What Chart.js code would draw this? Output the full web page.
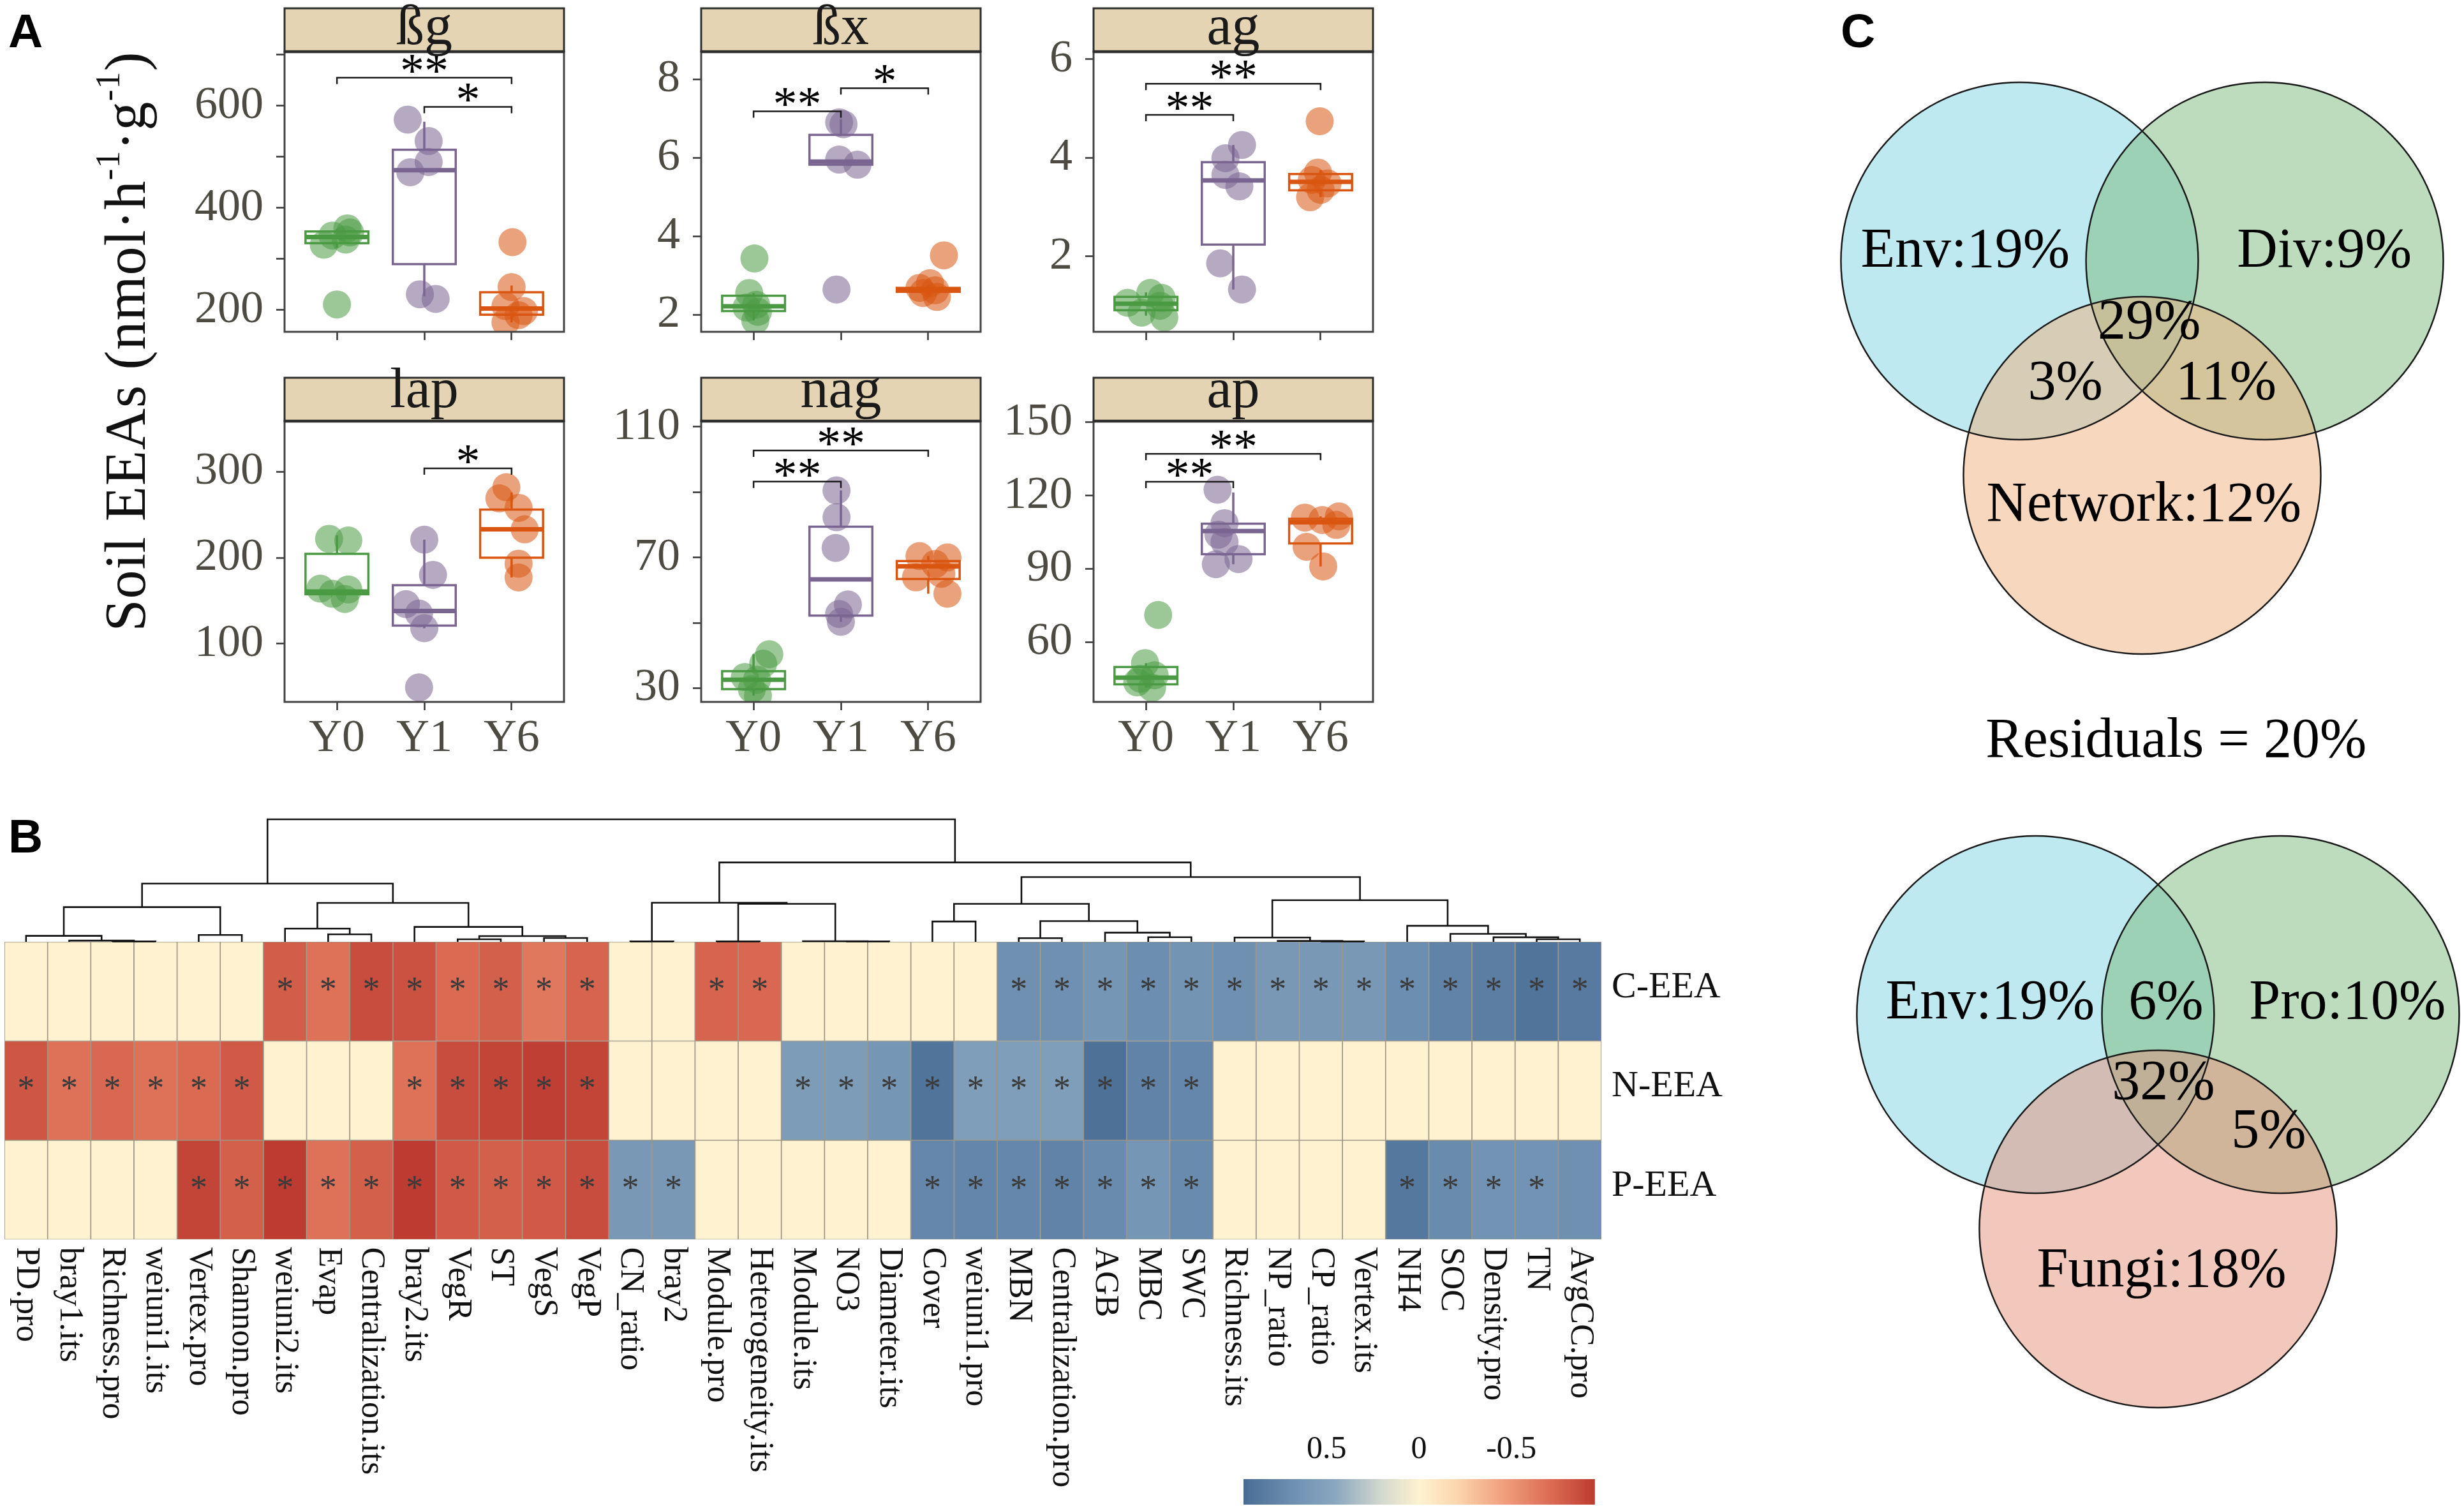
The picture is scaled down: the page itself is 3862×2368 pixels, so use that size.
<!DOCTYPE html>
<html>
<head>
<meta charset="utf-8">
<title>Soil EEAs</title>
<script src="https://cdn.jsdelivr.net/npm/chart.js@4.4.1/dist/chart.umd.min.js"></script>
<style>
  html, body { margin:0; padding:0; background:#ffffff; }
  body { position:relative; width:3862px; height:2368px; overflow:hidden; }
  canvas { position:absolute; }
  .panel-tag { position:absolute; font-family:'Liberation Sans', Arial, sans-serif; font-weight:bold; font-size:75px; line-height:75px; color:#000; }
  #ytitle { position:absolute; left:197px; top:535px; transform:translate(-50%,-50%) rotate(-90deg); white-space:nowrap;
            font-family:'Liberation Serif','Times New Roman',serif; font-size:90px; line-height:1; color:#111; letter-spacing:1px; }
  #ytitle .sup { font-size:0.6em; position:relative; top:-0.75em; }
</style>
</head>
<body>
<div class="panel-tag" style="left:13px; top:11px;">A</div>
<div class="panel-tag" style="left:13px; top:1273px;">B</div>
<div class="panel-tag" style="left:2885px; top:11px;">C</div>
<div id="ytitle">Soil EEAs (nmol·h<span class="sup">-1</span>·g<span class="sup">-1</span>)</div>
<script>
// ======================= DATA =======================
const groupLabels = ['Y0', 'Y1', 'Y6'];

// box stats per group: [lower whisker, Q1, median, Q3, upper whisker]
const bgStats  = [[322, 331, 343, 354, 358], [227, 290, 474, 514, 569], [176, 191, 203, 235, 248]];
const bgPoints = [[211, 328, 338, 346, 352, 360], [573, 531, 490, 470, 231, 222], [333, 245, 208, 198, 190, 176]];
const bgJitter = [[0, -0.15, 0.1, -0.05, 0.15, 0.12], [-0.19, 0.05, 0.05, -0.16, -0.05, 0.13], [0.01, 0, -0.07, 0.14, 0.08, -0.07]];
const bgTicks = [200, 300, 400, 500, 600, 700];
const bgTickLabels = ['200', '', '400', '', '600', ''];
const bgSig = [[1, 3, 655, '**'], [2, 3, 598, '*']];

const bxStats  = [[1.85, 2.09, 2.21, 2.48, 2.55], [5.82, 5.82, 5.90, 6.58, 6.98], [2.50, 2.58, 2.63, 2.68, 2.75]];
const bxPoints = [[3.43, 2.55, 2.25, 2.18, 2.07, 1.85], [6.90, 6.85, 5.95, 5.82, 2.64], [3.51, 2.80, 2.68, 2.62, 2.55, 2.45]];
const bxJitter = [[0.01, -0.05, 0.03, -0.08, 0.05, 0.02], [-0.02, 0.03, -0.02, 0.19, -0.05], [0.18, 0.02, -0.1, 0.08, -0.06, 0.1]];
const bxTicks = [2, 4, 6, 8];
const bxTickLabels = ['2', '4', '6', '8'];
const bxSig = [[1, 2, 7.18, '**'], [2, 3, 7.77, '*']];

const agStats  = [[0.80, 0.91, 1.04, 1.18, 1.27], [1.33, 2.24, 3.54, 3.91, 4.26], [3.20, 3.34, 3.51, 3.67, 3.75]];
const agPoints = [[1.06, 1.26, 1.00, 0.76, 0.86, 1.16], [4.26, 3.99, 3.65, 3.42, 1.86, 1.33], [4.74, 3.70, 3.55, 3.48, 3.35, 3.20]];
const agJitter = [[-0.21, 0.05, 0.16, 0.21, -0.05, 0.18], [0.1, -0.09, -0.09, 0.07, -0.15, 0.1], [-0.01, -0.03, -0.1, 0.08, 0.0, -0.12]];
const agTicks = [2, 4, 6];
const agTickLabels = ['2', '4', '6'];
const agSig = [[1, 2, 4.87, '**'], [1, 3, 5.50, '**']];

const lapStats  = [[157, 157.5, 160.7, 204.5, 226], [118, 121, 138, 168, 221], [177, 200, 233, 256, 276]];
const lapPoints = [[222, 220, 164, 163, 158, 152], [221, 180, 146, 135, 118, 49], [282, 269, 258, 233, 193, 177]];
const lapJitter = [[-0.09, 0.13, -0.19, 0.13, -0.05, 0.09], [0, 0.1, -0.21, -0.06, 0, -0.06], [-0.06, -0.14, 0.08, 0.15, 0.08, 0.08]];
const lapTicks = [100, 200, 300];
const lapTickLabels = ['100', '200', '300'];
const lapSig = [[2, 3, 304, '*']];

const nagStats  = [[27.7, 29.7, 32.6, 35.2, 40.4], [50.3, 52.2, 63.3, 79.4, 90.5], [58.9, 63.4, 67.3, 68.9, 70.4]];
const nagPoints = [[40.4, 37.5, 33.4, 32.6, 29.7, 27.7], [90.5, 82.3, 72.9, 55.6, 52.7, 50.3], [70.4, 70.0, 68.0, 65.0, 63.9, 58.9]];
const nagJitter = [[0.18, 0.11, -0.1, 0.04, -0.02, 0.05], [-0.05, -0.05, -0.06, 0.08, -0.02, 0], [-0.1, 0.22, 0.08, 0.15, -0.14, 0.22]];
const nagTicks = [30, 50, 70, 90, 110];
const nagTickLabels = ['30', '', '70', '', '110'];
const nagSig = [[1, 2, 93.2, '**'], [1, 3, 102.7, '**']];

const apStats  = [[41.3, 42.7, 45.4, 49.8, 51.4], [91.9, 96.0, 105.5, 108.5, 121.3], [91.0, 100.4, 109.1, 110.5, 111.5]];
const apPoints = [[71.1, 51.4, 46.4, 45.0, 43.5, 41.3], [122.4, 108.7, 104.0, 101.0, 94.0, 91.9], [111.5, 111.0, 110.0, 108.0, 99.0, 91.0]];
const apJitter = [[0.14, -0.01, 0.1, -0.06, -0.1, 0.07], [-0.18, -0.1, -0.17, -0.1, 0.06, -0.2], [0.21, -0.18, 0.02, 0.18, -0.16, 0.03]];
const apTicks = [60, 90, 120, 150];
const apTickLabels = ['60', '90', '120', '150'];
const apSig = [[1, 2, 125.7, '**'], [1, 3, 137.1, '**']];

// Heatmap (panel B)
const hmColumns = ['PD.pro','bray1.its','Richness.pro','weiuni1.its','Vertex.pro','Shannon.pro','weiuni2.its','Evap',
  'Centralization.its','bray2.its','VegR','ST','VegS','VegP','CN_ratio','bray2','Module.pro','Heterogeneity.its',
  'Module.its','NO3','Diameter.its','Cover','weiuni1.pro','MBN','Centralization.pro','AGB','MBC','SWC',
  'Richness.its','NP_ratio','CP_ratio','Vertex.its','NH4','SOC','Density.pro','TN','AvgCC.pro'];
const hmRows = ['C-EEA', 'N-EEA', 'P-EEA'];
const hmC = [0,0,0,0,0,0,-0.78,-0.68,-0.86,-0.84,-0.72,-0.77,-0.65,-0.75,0,0,-0.75,-0.73,0,0,0,0,0,
  0.68,0.68,0.62,0.70,0.64,0.68,0.60,0.60,0.60,0.70,0.78,0.82,0.90,0.85];
const hmN = [-0.82,-0.68,-0.73,-0.68,-0.72,-0.80,0,0,0,-0.68,-0.86,-0.90,-0.93,-0.90,0,0,0,0,
  0.57,0.57,0.62,0.90,0.55,0.55,0.55,0.92,0.78,0.75,0,0,0,0,0,0,0,0,0];
const hmP = [0,0,0,0,-0.90,-0.77,-0.95,-0.68,-0.77,-0.95,-0.80,-0.77,-0.80,-0.86,0.60,0.60,0,0,0,0,0,
  0.75,0.76,0.75,0.78,0.72,0.62,0.72,0,0,0,0,0.87,0.72,0.65,0.65,0.68];
const hmSigC = [0,0,0,0,0,0,1,1,1,1,1,1,1,1,0,0,1,1,0,0,0,0,0,1,1,1,1,1,1,1,1,1,1,1,1,1,1];
const hmSigN = [1,1,1,1,1,1,0,0,0,1,1,1,1,1,0,0,0,0,1,1,1,1,1,1,1,1,1,1,0,0,0,0,0,0,0,0,0];
const hmSigP = [0,0,0,0,1,1,1,1,1,1,1,1,1,1,1,1,0,0,0,0,0,1,1,1,1,1,1,1,0,0,0,0,1,1,1,1,0];
// column dendrogram, hclust-style merges: negative = leaf (1-based column), positive = earlier merge
const hmMerges = [
  [-3,-4,0.03],[-2,1,0.10],[-1,2,0.49],[-5,-6,0.56],[3,4,2.83],[-8,-9,0.61],[-7,6,1.08],
  [-11,-12,0.21],[-13,-14,0.31],[8,9,0.47],[-10,10,1.22],[7,11,3.18],[5,12,4.75],
  [-15,-16,0.03],[-17,-18,0.03],[-20,-21,0.03],[-19,16,0.05],[15,17,3.10],[14,18,3.19],
  [-22,-23,1.66],[-24,-25,0.30],[-27,-28,0.38],[-26,22,0.75],[21,23,1.69],[20,24,3.10],
  [-31,-32,0.03],[-30,26,0.07],[-29,27,0.35],[-36,-37,0.21],[-35,29,0.37],[-34,30,0.65],[-33,31,1.31],
  [28,32,3.40],[25,33,5.29],[19,34,6.48],[13,35,10.0]];
const colorbarTicks = [0.5, 0, -0.5];
const colorbarLabels = ['0.5', '0', '-0.5'];

// Venn (panel C)
const vennTopSets = ['Env', 'Div', 'Network'];
const vennTopUnique = [19, 9, 12];
const vennTopShared = [29, 3, 11];      // all three, Env∩Network, Div∩Network
const vennBottomSets = ['Env', 'Pro', 'Fungi'];
const vennBottomUnique = [19, 10, 18];
const vennBottomShared = [6, 32, 5];    // Env∩Pro, all three, Pro∩Fungi
const residualShare = 20;

// ======================= STYLE / LAYOUT =======================
const SERIF = "'Liberation Serif', 'Times New Roman', serif";
Chart.defaults.font.family = SERIF;
const TICK_COLOR = '#4d4a42';
const GROUP_LINE = ['#4b9a43', '#7a6591', '#d95511'];
const GROUP_POINT = ['rgba(75,154,67,0.55)', 'rgba(122,101,145,0.55)', 'rgba(217,85,17,0.55)'];
const STRIP_FILL = '#e4d4b3';
const BOX_W = 0.72;
const PANEL_COLS = [[446, 892], [1099, 1545], [1714, 2160]];
const PANEL_ROWS = [
  { stripTop: 13, plotTop: 81, plotBottom: 520, canvasTop: 0, canvasBottom: 600, labels: false, stripBase: 12 },
  { stripTop: 592, plotTop: 660, plotBottom: 1100, canvasTop: 560, canvasBottom: 1220, labels: true, stripBase: 22 }
];

function addCanvas(left, top, width, height) {
  const cv = document.createElement('canvas');
  cv.width = width; cv.height = height;
  cv.style.left = left + 'px'; cv.style.top = top + 'px';
  cv.style.width = width + 'px'; cv.style.height = height + 'px';
  document.body.appendChild(cv);
  return cv;
}
const baseOpts = () => ({ responsive: false, animation: false, events: [],
  plugins: { legend: { display: false }, tooltip: { enabled: false } } });

// ======================= PANEL A =======================
function boxPlugin(p, row) {
  return {
    id: 'boxpanel',
    beforeDatasetsDraw(chart) {
      const { ctx, scales: { x, y } } = chart;
      ctx.save();
      p.stats.forEach((s, g) => {
        const cx = x.getPixelForValue(g + 1);
        const hw = (x.getPixelForValue(g + 1 + BOX_W / 2) - x.getPixelForValue(g + 1 - BOX_W / 2)) / 2;
        const [lo, q1, md, q3, hi] = s.map(v => y.getPixelForValue(v));
        ctx.strokeStyle = GROUP_LINE[g];
        ctx.lineWidth = 3.5;
        ctx.beginPath();
        ctx.moveTo(cx, q3); ctx.lineTo(cx, hi);
        ctx.moveTo(cx, q1); ctx.lineTo(cx, lo);
        ctx.stroke();
        ctx.fillStyle = '#ffffff';
        ctx.fillRect(cx - hw, q3, 2 * hw, q1 - q3);
        ctx.strokeRect(cx - hw, q3, 2 * hw, q1 - q3);
        ctx.lineWidth = 7;
        ctx.beginPath(); ctx.moveTo(cx - hw, md); ctx.lineTo(cx + hw, md); ctx.stroke();
      });
      ctx.restore();
    },
    afterDatasetsDraw(chart) {
      const { ctx, scales: { x, y } } = chart;
      ctx.save();
      ctx.strokeStyle = '#1a1a1a'; ctx.lineWidth = 2.5; ctx.fillStyle = '#000';
      ctx.font = `76px ${SERIF}`; ctx.textAlign = 'center'; ctx.textBaseline = 'alphabetic';
      p.sig.forEach(([a, b, v, label]) => {
        const xa = x.getPixelForValue(a), xb = x.getPixelForValue(b), yy = y.getPixelForValue(v);
        ctx.beginPath();
        ctx.moveTo(xa, yy + 10); ctx.lineTo(xa, yy); ctx.lineTo(xb, yy); ctx.lineTo(xb, yy + 10);
        ctx.stroke();
        ctx.fillText(label, (xa + xb) / 2, yy + 14);
      });
      ctx.restore();
    },
    afterDraw(chart) {
      const { ctx, chartArea: a } = chart;
      const st = row.stripTop - row.canvasTop;
      ctx.save();
      ctx.strokeStyle = '#444'; ctx.lineWidth = 3;
      ctx.strokeRect(a.left, a.top, a.right - a.left, a.bottom - a.top);
      ctx.fillStyle = STRIP_FILL;
      ctx.fillRect(a.left, st, a.right - a.left, a.top - st);
      ctx.strokeStyle = '#2e2e2e'; ctx.lineWidth = 3;
      ctx.strokeRect(a.left, st, a.right - a.left, a.top - st);
      ctx.lineWidth = 4.5;
      ctx.beginPath(); ctx.moveTo(a.left, a.top); ctx.lineTo(a.right, a.top); ctx.stroke();
      ctx.fillStyle = '#1a1a1a'; ctx.font = `88px ${SERIF}`; ctx.textAlign = 'center'; ctx.textBaseline = 'alphabetic';
      ctx.fillText(p.name, (a.left + a.right) / 2, a.top - row.stripBase);
      ctx.restore();
    }
  };
}

function makeBoxPanel(p) {
  const row = PANEL_ROWS[p.row], col = PANEL_COLS[p.col];
  const AXW = 200, RP = 14;
  const cv = addCanvas(col[0] - AXW, row.canvasTop, col[1] - col[0] + AXW + RP, row.canvasBottom - row.canvasTop);
  const gridOpts = { display: true, drawOnChartArea: false, drawTicks: true, tickLength: 13, tickWidth: 2.5, tickColor: '#333' };
  const opts = baseOpts();
  opts.layout = { padding: { left: 0, right: RP, top: row.plotTop - row.canvasTop, bottom: 0 } };
  opts.scales = {
    x: { type: 'linear', min: 0.4, max: 3.6,
      afterBuildTicks: s => { s.ticks = groupLabels.map((_, i) => ({ value: i + 1 })); },
      afterFit: s => { s.height = row.canvasBottom - row.plotBottom; },
      grid: gridOpts, border: { display: false },
      ticks: { autoSkip: false, maxRotation: 0, minRotation: 0, padding: 2, color: TICK_COLOR,
        font: { family: SERIF, size: 72 }, callback: (v, i) => row.labels ? groupLabels[i] : '' } },
    y: { type: 'linear', min: p.range[0], max: p.range[1],
      afterBuildTicks: s => { s.ticks = p.ticks.map(v => ({ value: v })); },
      afterFit: s => { s.width = AXW; },
      grid: gridOpts, border: { display: false },
      ticks: { autoSkip: false, padding: 20, color: TICK_COLOR, font: { family: SERIF, size: 72 },
        callback: (v, i) => p.tickLabels[i] } }
  };
  new Chart(cv, {
    type: 'scatter',
    data: { datasets: p.points.map((pts, g) => ({
      data: pts.map((v, k) => ({ x: g + 1 + p.jitter[g][k], y: v })),
      backgroundColor: GROUP_POINT[g], borderWidth: 0, pointRadius: 22, pointHoverRadius: 22, clip: 0 })) },
    options: opts,
    plugins: [boxPlugin(p, row)]
  });
}

[
  { name: 'ßg', row: 0, col: 0, stats: bgStats, points: bgPoints, jitter: bgJitter, ticks: bgTicks, tickLabels: bgTickLabels, sig: bgSig, range: [157.5, 706] },
  { name: 'ßx', row: 0, col: 1, stats: bxStats, points: bxPoints, jitter: bxJitter, ticks: bxTicks, tickLabels: bxTickLabels, sig: bxSig, range: [1.561, 8.70] },
  { name: 'ag', row: 0, col: 2, stats: agStats, points: agPoints, jitter: agJitter, ticks: agTicks, tickLabels: agTickLabels, sig: agSig, range: [0.472, 6.15] },
  { name: 'lap', row: 1, col: 0, stats: lapStats, points: lapPoints, jitter: lapJitter, ticks: lapTicks, tickLabels: lapTickLabels, sig: lapSig, range: [32.2, 358.9] },
  { name: 'nag', row: 1, col: 1, stats: nagStats, points: nagPoints, jitter: nagJitter, ticks: nagTicks, tickLabels: nagTickLabels, sig: nagSig, range: [25.8, 111.7] },
  { name: 'ap', row: 1, col: 2, stats: apStats, points: apPoints, jitter: apJitter, ticks: apTicks, tickLabels: apTickLabels, sig: apSig, range: [35.5, 150.5] }
].forEach(makeBoxPanel);

// ======================= PANEL B =======================
const CORR_STOPS = [
  [-0.95, [189, 59, 49]], [-0.70, [220, 110, 85]], [-0.45, [241, 160, 127]], [-0.20, [251, 214, 174]],
  [0, [254, 242, 208]], [0.20, [213, 217, 207]], [0.45, [140, 168, 192]], [0.70, [108, 142, 176]], [0.95, [74, 109, 149]]];
function corrColor(v) {
  v = Math.max(-0.95, Math.min(0.95, v));
  for (let i = 0; i < CORR_STOPS.length - 1; i++) {
    const [v0, c0] = CORR_STOPS[i], [v1, c1] = CORR_STOPS[i + 1];
    if (v >= v0 && v <= v1) {
      const t = (v - v0) / (v1 - v0);
      return `rgb(${c0.map((c, k) => Math.round(c + (c1[k] - c) * t)).join(',')})`;
    }
  }
  return 'rgb(254,242,208)';
}
const hmValues = [hmC, hmN, hmP];
const hmSig = [hmSigC, hmSigN, hmSigP];
const HM = { canvasLeft: 0, canvasTop: 1270, width: 2800, height: 1098, left: 7, right: 2510, top: 1476, bottom: 1942.5 };

const heatmapPlugin = {
  id: 'heatmapText',
  afterDatasetsDraw(chart) {
    const { ctx, chartArea, scales: { x, y } } = chart;
    ctx.save();
    ctx.fillStyle = '#3a3a3a'; ctx.font = `54px ${SERIF}`; ctx.textAlign = 'center'; ctx.textBaseline = 'alphabetic';
    hmSig.forEach((row, r) => row.forEach((s, c) => {
      if (s) ctx.fillText('*', x.getPixelForValue(c), (y.getPixelForValue(r) + y.getPixelForValue(r + 1)) / 2 + 14);
    }));
    ctx.fillStyle = '#111'; ctx.font = `58px ${SERIF}`; ctx.textAlign = 'left'; ctx.textBaseline = 'middle';
    hmRows.forEach((name, r) => ctx.fillText(name, chartArea.right + 16, (y.getPixelForValue(r) + y.getPixelForValue(r + 1)) / 2 - 6));
    ctx.font = `52px ${SERIF}`;
    hmColumns.forEach((name, c) => {
      ctx.save();
      ctx.translate(x.getPixelForValue(c), chartArea.bottom + 12);
      ctx.rotate(Math.PI / 2);
      ctx.textAlign = 'left'; ctx.textBaseline = 'middle';
      ctx.fillText(name, 0, 0);
      ctx.restore();
    });
    ctx.restore();
  }
};
(function makeHeatmap() {
  const cv = addCanvas(HM.canvasLeft, HM.canvasTop, HM.width, HM.height);
  const opts = baseOpts();
  opts.layout = { padding: { left: HM.left - HM.canvasLeft, right: HM.canvasLeft + HM.width - HM.right,
    top: HM.top - HM.canvasTop, bottom: HM.canvasTop + HM.height - HM.bottom } };
  opts.scales = { x: { display: false, offset: true }, y: { display: false, min: 0, max: hmRows.length, reverse: true } };
  new Chart(cv, {
    type: 'bar',
    data: { labels: hmColumns, datasets: hmRows.map((name, r) => ({
      label: name, data: hmColumns.map(() => [r, r + 1]), grouped: false,
      barPercentage: 1, categoryPercentage: 1,
      backgroundColor: ctx => corrColor(hmValues[r][ctx.dataIndex]),
      borderColor: '#9d9686', borderWidth: 1.2, borderSkipped: false })) },
    options: opts,
    plugins: [heatmapPlugin]
  });
})();

(function makeDendrogram() {
  const nodes = [];
  const nodeOf = ref => ref < 0 ? { x: -ref - 1, h: 0 } : nodes[ref - 1];
  hmMerges.forEach(([a, b, h]) => { const A = nodeOf(a), B = nodeOf(b); nodes.push({ x: (A.x + B.x) / 2, h, A, B }); });
  const DTOP = 1284;
  const cv = addCanvas(HM.canvasLeft, 1266, HM.width, 214);
  const opts = baseOpts();
  opts.layout = { padding: { left: HM.left - HM.canvasLeft, right: HM.canvasLeft + HM.width - HM.right,
    top: DTOP - 1266, bottom: 1266 + 214 - HM.top } };
  opts.scales = { x: { type: 'linear', display: false, min: -0.5, max: hmColumns.length - 0.5 },
                  y: { type: 'linear', display: false, min: 0, max: 10 } };
  new Chart(cv, {
    type: 'scatter',
    data: { datasets: nodes.map(n => ({
      data: [{ x: n.A.x, y: n.A.h }, { x: n.A.x, y: n.h }, { x: n.B.x, y: n.h }, { x: n.B.x, y: n.B.h }],
      showLine: true, borderColor: '#111', borderWidth: 2.6, pointRadius: 0, tension: 0, fill: false, clip: false })) },
    options: opts
  });
})();

(function makeColorbar() {
  const CB = { canvasLeft: 1900, canvasTop: 2230, width: 660, height: 138, left: 1949, right: 2499, top: 2318, bottom: 2358 };
  const cv = addCanvas(CB.canvasLeft, CB.canvasTop, CB.width, CB.height);
  const opts = baseOpts();
  opts.layout = { padding: { left: CB.left - CB.canvasLeft, right: CB.canvasLeft + CB.width - CB.right, top: 0,
    bottom: CB.canvasTop + CB.height - CB.bottom } };
  opts.scales = {
    x: { type: 'linear', position: 'top', reverse: true, min: -0.95, max: 0.95,
      afterBuildTicks: s => { s.ticks = colorbarTicks.map(v => ({ value: v })); },
      afterFit: s => { s.height = CB.top - CB.canvasTop; },
      grid: { display: false }, border: { display: false },
      ticks: { autoSkip: false, maxRotation: 0, padding: 8, color: '#111', font: { family: SERIF, size: 50 },
        callback: (v, i) => colorbarLabels[i] } },
    y: { display: false, min: 0, max: 1 }
  };
  new Chart(cv, {
    type: 'scatter', data: { datasets: [{ data: [] }] }, options: opts,
    plugins: [{ id: 'cbar', beforeDatasetsDraw(chart) {
      const { ctx, chartArea: a, scales: { x } } = chart;
      const N = 300, lo = x.min, hi = x.max;
      for (let i = 0; i < N; i++) {
        const v0 = lo + (hi - lo) * i / N, v1 = lo + (hi - lo) * (i + 1) / N;
        const p0 = x.getPixelForValue(v0), p1 = x.getPixelForValue(v1);
        ctx.fillStyle = corrColor((v0 + v1) / 2);
        ctx.fillRect(Math.min(p0, p1), a.top, Math.abs(p1 - p0) + 0.8, a.bottom - a.top);
      }
    } }]
  });
})();

// ======================= PANEL C =======================
(function makeVenn() {
  const VENN_CENTERS = [[-0.686, 0], [0.686, 0], [0, 1.2]];
  const VENN_ORIGINS = [[0, 0], [0.089, 4.218]];
  const UNIQUE_POS = [[[-0.99, -0.05], [1.02, -0.05], [0.01, 1.37]], [[-0.94, -0.06], [1.06, -0.06], [0.02, 1.44]]];
  const SHARED_POS = [[[0.04, 0.35], [-0.43, 0.69], [0.47, 0.69]], [[0.045, -0.06], [0.03, 0.39], [0.62, 0.66]]];
  const RESIDUAL_POS = [0.19, 2.693];
  const FILLS = [
    ['rgba(127,211,226,0.5)', 'rgba(122,186,124,0.5)', 'rgba(239,176,126,0.5)'],
    ['rgba(127,211,226,0.5)', 'rgba(122,186,124,0.5)', 'rgba(229,143,122,0.5)']];
  const diagrams = [
    { sets: vennTopSets, unique: vennTopUnique, shared: vennTopShared },
    { sets: vennBottomSets, unique: vennBottomUnique, shared: vennBottomShared }];
  const cv = addCanvas(2850, 0, 1012, 2368);
  const opts = baseOpts();
  opts.layout = { padding: 0 };
  opts.scales = { x: { type: 'linear', display: false, min: -1.8125, max: 1.8018 },
                  y: { type: 'linear', display: false, min: -1.4607, max: 6.9964, reverse: true } };
  // circle centres as data points (unit radius in diagram units)
  const circles = [];
  diagrams.forEach((d, k) => {
    const [ox, oy] = VENN_ORIGINS[k];
    d.sets.forEach((name, i) => circles.push({ name, x: ox + VENN_CENTERS[i][0], y: oy + VENN_CENTERS[i][1], fill: FILLS[k][i] }));
  });
  new Chart(cv, {
    type: 'scatter',
    data: { datasets: [{ data: circles.map(c => ({ x: c.x, y: c.y })), pointRadius: 0, showLine: false }] },
    options: opts,
    plugins: [{ id: 'venn',
      beforeDatasetsDraw(chart) {
        const { ctx, scales: { x, y } } = chart;
        const rpx = Math.abs(x.getPixelForValue(1) - x.getPixelForValue(0));
        ctx.save();
        circles.forEach(c => {
          ctx.beginPath(); ctx.arc(x.getPixelForValue(c.x), y.getPixelForValue(c.y), rpx, 0, Math.PI * 2);
          ctx.fillStyle = c.fill; ctx.fill();
        });
        ctx.strokeStyle = '#1a1a1a'; ctx.lineWidth = 2.5;
        circles.forEach(c => {
          ctx.beginPath(); ctx.arc(x.getPixelForValue(c.x), y.getPixelForValue(c.y), rpx, 0, Math.PI * 2);
          ctx.stroke();
        });
        ctx.restore();
      },
      afterDatasetsDraw(chart) {
        const { ctx, scales: { x, y } } = chart;
        ctx.save();
        ctx.fillStyle = '#000'; ctx.font = `88px ${SERIF}`; ctx.textAlign = 'center'; ctx.textBaseline = 'middle';
        diagrams.forEach((d, k) => {
          const [ox, oy] = VENN_ORIGINS[k];
          d.sets.forEach((name, i) => {
            const [px, py] = UNIQUE_POS[k][i];
            ctx.fillText(`${name}:${d.unique[i]}%`, x.getPixelForValue(ox + px), y.getPixelForValue(oy + py));
          });
          d.shared.forEach((v, i) => {
            const [px, py] = SHARED_POS[k][i];
            ctx.fillText(`${v}%`, x.getPixelForValue(ox + px), y.getPixelForValue(oy + py));
          });
        });
        ctx.fillText(`Residuals = ${residualShare}%`, x.getPixelForValue(RESIDUAL_POS[0]), y.getPixelForValue(RESIDUAL_POS[1]));
        ctx.restore();
      } }]
  });
})();
</script>
</body>
</html>
